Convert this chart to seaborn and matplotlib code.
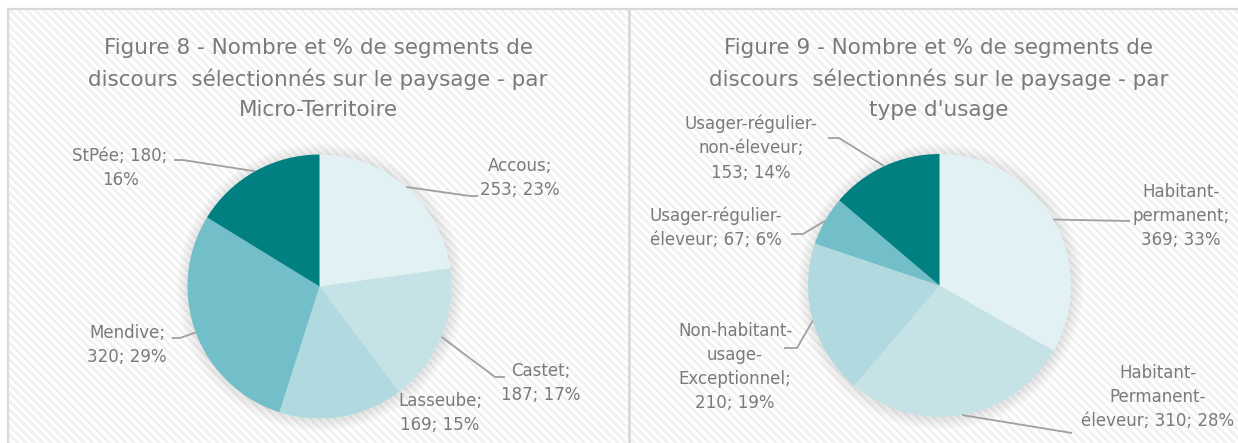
import matplotlib
matplotlib.use("Agg")
import matplotlib.pyplot as plt
import seaborn as sns
import numpy as np
from matplotlib.patches import Rectangle, Circle

# ---------------- data ----------------
titles_fig8 = ["Figure 8 - Nombre et % de segments de",
               "discours  sélectionnés sur le paysage - par",
               "Micro-Territoire"]
cats_fig8 = ["Accous", "Castet", "Lasseube", "Mendive", "StPée"]
vals_fig8 = [253, 187, 169, 320, 180]
labels_fig8 = ["Accous;\n253; 23%", "Castet;\n187; 17%", "Lasseube;\n169; 15%",
               "Mendive;\n320; 29%", "StPée; 180;\n16%"]

titles_fig9 = ["Figure 9 - Nombre et % de segments de",
               "discours  sélectionnés sur le paysage - par",
               "type d'usage"]
cats_fig9 = ["Habitant-permanent", "Habitant-Permanent-éleveur",
             "Non-habitant-usage-Exceptionnel", "Usager-régulier-éleveur",
             "Usager-régulier-non-éleveur"]
vals_fig9 = [369, 310, 210, 67, 153]
labels_fig9 = ["Habitant-\npermanent;\n369; 33%",
               "Habitant-\nPermanent-\néleveur; 310; 28%",
               "Non-habitant-\nusage-\nExceptionnel;\n210; 19%",
               "Usager-régulier-\néleveur; 67; 6%",
               "Usager-régulier-\nnon-éleveur;\n153; 14%"]

# ---------------- style ----------------
sns.set_theme(style="white")
plt.rcParams['font.family'] = ['DejaVu Sans']
plt.rcParams['hatch.linewidth'] = 1.8

palette = sns.color_palette(["#E2F1F3", "#C5E3E7", "#B1DAE0", "#73BFC9", "#008080"])
TEXT = "#7A7A7A"
LINE = "#A0A0A0"

W, H = 1238, 443
fig = plt.figure(figsize=(W / 100, H / 100), dpi=100)
ax = fig.add_axes([0, 0, 1, 1])

def Y(py):
    return H - py

# background panels (subtle diagonal stripes + light grey borders)
ax.add_patch(Rectangle((8, Y(460)), 1240, 460 - 9, facecolor="white",
                       edgecolor="#F1F1F1", lw=0, hatch='\\\\\\\\', zorder=0))
ax.add_patch(Rectangle((8, Y(460)), 1240, 460 - 9, facecolor="none",
                       edgecolor="#D9D9D9", lw=1.6, zorder=0.5))
ax.plot([629, 629], [Y(9), Y(460)], color="#D9D9D9", lw=2.0, zorder=0.5)

panels = [
    dict(center=(319.5, 286.5), r=132, vals=vals_fig8, labels=labels_fig8,
         titles=titles_fig8, tx=318,
         lab=[dict(pos=(520, 178), path=[(470, 196), (478, 196)]),
              dict(pos=(541, 383), path=[(495, 377), (505, 377)]),
              dict(pos=(440, 413), path=None),
              dict(pos=(127, 345), path=[(180, 338), (172, 338)]),
              dict(pos=(120, 168), path=[(183, 160), (174, 160)])]),
    dict(center=(939.5, 285.5), r=131.5, vals=vals_fig9, labels=labels_fig9,
         titles=titles_fig9, tx=939,
         lab=[dict(pos=(1181, 216), path=[(1130, 221)]),
              dict(pos=(1158, 397), path=[(1072, 433)]),
              dict(pos=(735, 367), path=[(797, 348), (784, 348)]),
              dict(pos=(716, 228), path=[(803, 234), (791, 234)]),
              dict(pos=(751, 148), path=[(839, 138), (828, 138)])]),
]

for p in panels:
    cx, cy = p["center"]
    r = p["r"]
    # soft shadow
    for d in np.linspace(12, 1, 12):
        ax.add_patch(Circle((cx + 1, Y(cy) - 1), r + d, facecolor="#000000",
                            edgecolor="none", alpha=0.007, zorder=1))
    wedges, _ = ax.pie(p["vals"], colors=palette, startangle=90, counterclock=False,
                       center=(cx, Y(cy)), radius=r, wedgeprops=dict(linewidth=0))
    for w in wedges:
        w.set_zorder(2)
    for w, lab, info in zip(wedges, p["labels"], p["lab"]):
        ang = np.deg2rad((w.theta1 + w.theta2) / 2)
        x0, y0 = cx + r * np.cos(ang), Y(cy) + r * np.sin(ang)
        if info["path"]:
            xs = [x0] + [q[0] for q in info["path"]]
            ys = [y0] + [Y(q[1]) for q in info["path"]]
            ax.plot(xs, ys, color=LINE, lw=1.3, zorder=3, solid_capstyle="butt")
        ax.text(info["pos"][0], Y(info["pos"][1]), lab, ha="center", va="center",
                fontsize=12, color=TEXT, linespacing=1.45, zorder=4)
    for i, t in enumerate(p["titles"]):
        ax.text(p["tx"], Y(48 + 31 * i), t, ha="center", va="center",
                fontsize=15.5, color=TEXT, zorder=4)

ax.set_xlim(0, W)
ax.set_ylim(0, H)
ax.set_aspect("equal")
ax.axis("off")

fig.savefig("out.png", dpi=100, facecolor="white")
